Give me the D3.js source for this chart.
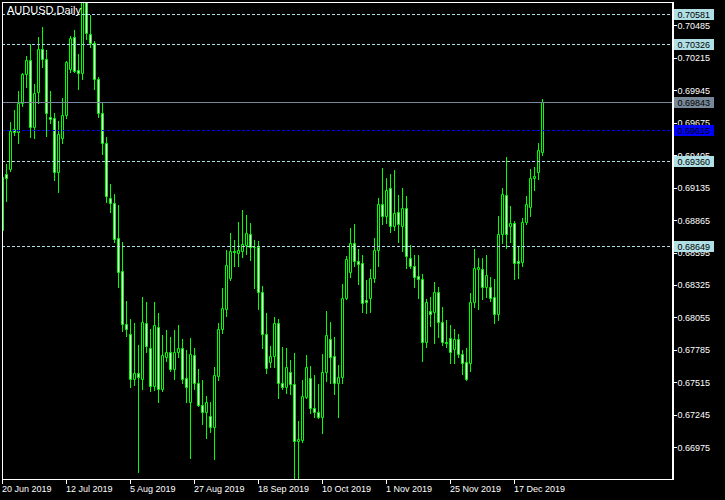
<!DOCTYPE html>
<html><head><meta charset="utf-8">
<script src="https://cdn.jsdelivr.net/npm/d3@7"></script>
<style>html,body{margin:0;padding:0;background:#000;}svg{display:block;}</style>
</head><body><svg id="c" width="725" height="500"></svg>
<script>
const symbolTitle = "AUDUSD,Daily";
const open = [0.68782,0.69248,0.69290,0.69625,0.69595,0.69836,0.70080,0.70194,0.69642,0.69928,
0.70285,0.70202,0.69722,0.69711,0.69262,0.69550,0.69736,0.70119,0.70385,0.70111,
0.70086,0.70720,0.70413,0.70341,0.70038,0.69758,0.69503,0.69046,0.69004,0.68713,
0.68441,0.67998,0.67917,0.67543,0.67590,0.67543,0.68006,0.67798,0.67488,0.67973,
0.67460,0.67723,0.67765,0.67626,0.67765,0.67798,0.67549,0.67354,0.67743,0.67507,
0.67327,0.67266,0.67235,0.67146,0.67571,0.67959,0.68125,0.68386,0.68608,0.68588,
0.68610,0.68658,0.68746,0.68644,0.68644,0.68264,0.67914,0.67687,0.67734,0.68006,
0.67507,0.67474,0.67604,0.67499,0.67030,0.67036,0.67396,0.67549,0.67299,0.67266,
0.67224,0.67598,0.67873,0.67737,0.67512,0.67557,0.68214,0.68436,0.68671,0.68527,
0.68505,0.68200,0.68214,0.68380,0.68616,0.68999,0.68902,0.69129,0.68818,0.68929,
0.68818,0.68963,0.68547,0.68486,0.68400,0.68372,0.67848,0.68111,0.68098,0.68264,
0.68020,0.67848,0.67881,0.67793,0.67873,0.67751,0.67682,0.67673,0.68181,0.68460,
0.68455,0.68311,0.68305,0.68222,0.68081,0.68746,0.69074,0.68818,0.68838,0.68525,
0.68519,0.68852,0.68971,0.69212,0.69262,0.69434];
const high = [0.69234,0.69331,0.69683,0.69781,0.69939,0.70086,0.70230,0.70330,0.69997,0.70388,
0.70471,0.70280,0.69939,0.69753,0.69692,0.69878,0.70191,0.70396,0.70446,0.70246,
0.70800,0.70820,0.70571,0.70355,0.70058,0.69842,0.69559,0.69165,0.69082,0.68990,
0.68680,0.68192,0.68042,0.68006,0.67826,0.68228,0.68186,0.67959,0.68186,0.68095,
0.67909,0.67951,0.67895,0.67951,0.67992,0.67876,0.67784,0.67881,0.67798,0.67626,
0.67535,0.67402,0.67354,0.67640,0.68012,0.68297,0.68616,0.68760,0.68699,0.68846,
0.68949,0.68907,0.68838,0.68699,0.68691,0.68319,0.68089,0.67820,0.68056,0.68042,
0.67812,0.67798,0.67701,0.67756,0.67194,0.67535,0.67743,0.67651,0.67576,0.67501,
0.67751,0.68109,0.68020,0.67890,0.67659,0.68333,0.68566,0.68796,0.68832,0.68624,
0.68574,0.68366,0.68455,0.68719,0.69046,0.69295,0.69212,0.69248,0.69281,0.69074,
0.69129,0.69065,0.68658,0.68574,0.68574,0.68416,0.68208,0.68228,0.68347,0.68311,
0.68145,0.68034,0.67992,0.67959,0.67917,0.67784,0.67798,0.68256,0.68624,0.68552,
0.68552,0.68574,0.68389,0.68375,0.68899,0.69135,0.69392,0.68985,0.68860,0.68649,
0.68879,0.69068,0.69290,0.69309,0.69509,0.69872];
const low = [0.68774,0.69026,0.69276,0.69573,0.69503,0.69814,0.69975,0.69553,0.69550,0.69842,
0.70141,0.69567,0.69670,0.69198,0.69101,0.69503,0.69711,0.70099,0.70097,0.69958,
0.70038,0.70368,0.70307,0.69955,0.69720,0.69415,0.69018,0.68935,0.68685,0.68311,
0.67942,0.67903,0.67479,0.67493,0.66772,0.67460,0.67770,0.67446,0.67451,0.67354,
0.67446,0.67695,0.67610,0.67543,0.67729,0.67507,0.67354,0.66889,0.67460,0.67318,
0.67169,0.67055,0.67099,0.66875,0.67535,0.67928,0.68070,0.68366,0.68486,0.68486,
0.68561,0.68583,0.68533,0.68303,0.68125,0.67798,0.67596,0.67646,0.67646,0.67388,
0.67457,0.67429,0.67415,0.66700,0.66700,0.67022,0.67388,0.67257,0.67230,0.67218,
0.67096,0.67529,0.67512,0.67418,0.67230,0.67512,0.68208,0.68394,0.68486,0.68333,
0.68103,0.68095,0.68103,0.68353,0.68486,0.68832,0.68838,0.68769,0.68782,0.68685,
0.68610,0.68469,0.68469,0.68311,0.68214,0.67695,0.67806,0.67987,0.67845,0.67895,
0.67826,0.67806,0.67679,0.67679,0.67723,0.67585,0.67535,0.67612,0.68145,0.68125,
0.68206,0.68228,0.68192,0.68006,0.68034,0.68671,0.68635,0.68685,0.68375,0.68386,
0.68486,0.68829,0.68899,0.69115,0.69207,0.69406];
const close = [0.69226,0.69212,0.69609,0.69598,0.69836,0.70080,0.70194,0.69642,0.69919,0.70285,
0.70202,0.69753,0.69708,0.69262,0.69578,0.69736,0.70177,0.70377,0.70108,0.70086,
0.70720,0.70418,0.70341,0.70038,0.69758,0.69503,0.69068,0.69004,0.68707,0.68436,
0.67998,0.67956,0.67543,0.67590,0.67557,0.68014,0.67820,0.67488,0.67992,0.67460,
0.67743,0.67765,0.67626,0.67765,0.67798,0.67543,0.67474,0.67751,0.67507,0.67327,
0.67266,0.67354,0.67146,0.67576,0.67959,0.68131,0.68491,0.68608,0.68602,0.68616,
0.68663,0.68755,0.68638,0.68638,0.68264,0.67914,0.67632,0.67734,0.68006,0.67507,
0.67479,0.67640,0.67499,0.67030,0.67044,0.67404,0.67646,0.67299,0.67266,0.67224,
0.67598,0.67906,0.67729,0.67512,0.67557,0.68214,0.68538,0.68671,0.68527,0.68500,
0.68178,0.68186,0.68380,0.68616,0.68999,0.68902,0.69115,0.68818,0.68921,0.68832,
0.68963,0.68569,0.68486,0.68394,0.68372,0.67848,0.68181,0.68084,0.68264,0.68020,
0.67848,0.67840,0.67765,0.67873,0.67751,0.67673,0.67543,0.68181,0.68463,0.68472,
0.68311,0.68408,0.68220,0.68081,0.68746,0.69082,0.68746,0.68838,0.68505,0.68505,
0.68846,0.68996,0.69212,0.69232,0.69448,0.69844];
const dateTickLabels = ["20 Jun 2019","12 Jul 2019","5 Aug 2019","27 Aug 2019","18 Sep 2019","10 Oct 2019","1 Nov 2019","25 Nov 2019","17 Dec 2019"];
const dateTickEvery = 16;
const priceTicks = [0.70485,0.70215,0.69945,0.69675,0.69405,0.69135,0.68865,0.68595,0.68325,0.68055,0.67785,0.67515,0.67245,0.66975];
const dashedLevels = [0.70581,0.70326,0.69360,0.68649];
const blueLevel = 0.69615;
const lastPrice = 0.69843;

const svg = d3.select("#c");
const L = 2, R = 672, T = 2, B = 479;
const n = open.length;
const x = d3.scaleLinear().domain([0, n - 1]).range([2, 542]);
const y = d3.scaleLinear().domain([0.70485, 0.66975]).range([25.3, 447.3]);
const px = i => Math.round(x(i));
const py = v => Math.round(y(v));
const fmt = d3.format(".5f");
const font = "'Liberation Sans', Arial, sans-serif";

svg.append("rect").attr("width", 725).attr("height", 500).attr("fill", "#000");
svg.append("defs").append("clipPath").attr("id", "clip")
  .append("rect").attr("x", L).attr("y", T).attr("width", R - L).attr("height", B - T);

const plot = svg.append("g").attr("clip-path", "url(#clip)");

// candles
const data = d3.range(n).map(i => ({i, o: open[i], h: high[i], l: low[i], c: close[i]}));
const cg = plot.append("g");
cg.selectAll("line.wick").data(data).join("line")
  .attr("x1", d => px(d.i) + 0.5).attr("x2", d => px(d.i) + 0.5)
  .attr("y1", d => py(d.h)).attr("y2", d => py(d.l) + 1)
  .attr("stroke", "#00ff00").attr("stroke-width", 1);
cg.selectAll("path.body").data(data).join("path")
  .attr("d", d => {
    const a = px(d.i) - 1, top = py(Math.max(d.o, d.c)), bot = py(Math.min(d.o, d.c));
    return `M${a + 0.5},${top + 0.5}h2v${bot - top}h-2z`;
  })
  .attr("fill", d => d.c < d.o ? "#ffffff" : "#000000")
  .attr("stroke", "#00ff00").attr("stroke-width", 1);

// level lines
const lg = plot.append("g");
lg.selectAll("line.dash").data(dashedLevels).join("line")
  .attr("x1", L).attr("x2", R).attr("y1", d => py(d) + 0.5).attr("y2", d => py(d) + 0.5)
  .attr("stroke", "#b0e0e6").attr("stroke-dasharray", "3,2");
lg.append("line").attr("x1", L).attr("x2", R)
  .attr("y1", py(blueLevel) + 0.5).attr("y2", py(blueLevel) + 0.5)
  .attr("stroke", "#0000ff").attr("stroke-dasharray", "3,2");
lg.append("line").attr("x1", L).attr("x2", R)
  .attr("y1", py(lastPrice) + 0.5).attr("y2", py(lastPrice) + 0.5)
  .attr("stroke", "#778899");

// frame
const fg = svg.append("g").attr("stroke", "#fff").attr("fill", "none");
fg.append("line").attr("x1", L + 0.5).attr("x2", L + 0.5).attr("y1", T).attr("y2", B + 1);
fg.append("line").attr("x1", L).attr("x2", R).attr("y1", T + 0.5).attr("y2", T + 0.5);
fg.append("line").attr("x1", L).attr("x2", R + 1).attr("y1", B + 0.5).attr("y2", B + 0.5);
fg.append("line").attr("x1", R + 1).attr("x2", R + 1).attr("y1", T).attr("y2", B + 1).attr("stroke-width", 2);

// title
svg.append("text").attr("x", 7).attr("y", 13.5).text(symbolTitle)
  .attr("fill", "#fff").style("font", `11px ${font}`);

// price axis
const ag = svg.append("g");
ag.selectAll("line.pt").data(priceTicks).join("line")
  .attr("x1", R + 2).attr("x2", R + 5).attr("y1", d => Math.round(y(d)) + 0.5).attr("y2", d => Math.round(y(d)) + 0.5)
  .attr("stroke", "#fff");
ag.selectAll("text.pt").data(priceTicks).join("text")
  .attr("x", 677.5).attr("y", d => y(d) + 3.5).text(d => fmt(d))
  .attr("fill", "#fff").style("font", `9px ${font}`);

// date axis
const dg = svg.append("g");
dg.selectAll("line.dt").data(dateTickLabels).join("line")
  .attr("x1", (d, j) => px(j * dateTickEvery) + 0.5).attr("x2", (d, j) => px(j * dateTickEvery) + 0.5)
  .attr("y1", B).attr("y2", B + 5).attr("stroke", "#fff");
dg.selectAll("text.dt").data(dateTickLabels).join("text")
  .attr("x", (d, j) => px(j * dateTickEvery)).attr("y", 492).text(d => d)
  .attr("fill", "#fff").style("font", `9px ${font}`);

// price labels
const labels = [
  ...dashedLevels.map(v => ({v, bg: "#b0e0e6", fg: "#000"})),
  {v: lastPrice, bg: "#778899", fg: "#000"},
  {v: blueLevel, bg: "#0000ff", fg: "#000"}
];
const bl = svg.append("g").selectAll("g").data(labels).join("g");
bl.append("rect").attr("x", 674).attr("y", d => py(d.v) - 5).attr("width", 40).attr("height", 11)
  .attr("fill", d => d.bg);
bl.append("text").attr("x", 677.5).attr("y", d => py(d.v) + 4).text(d => fmt(d.v))
  .attr("fill", d => d.fg).style("font", `9px ${font}`);
</script></body></html>
